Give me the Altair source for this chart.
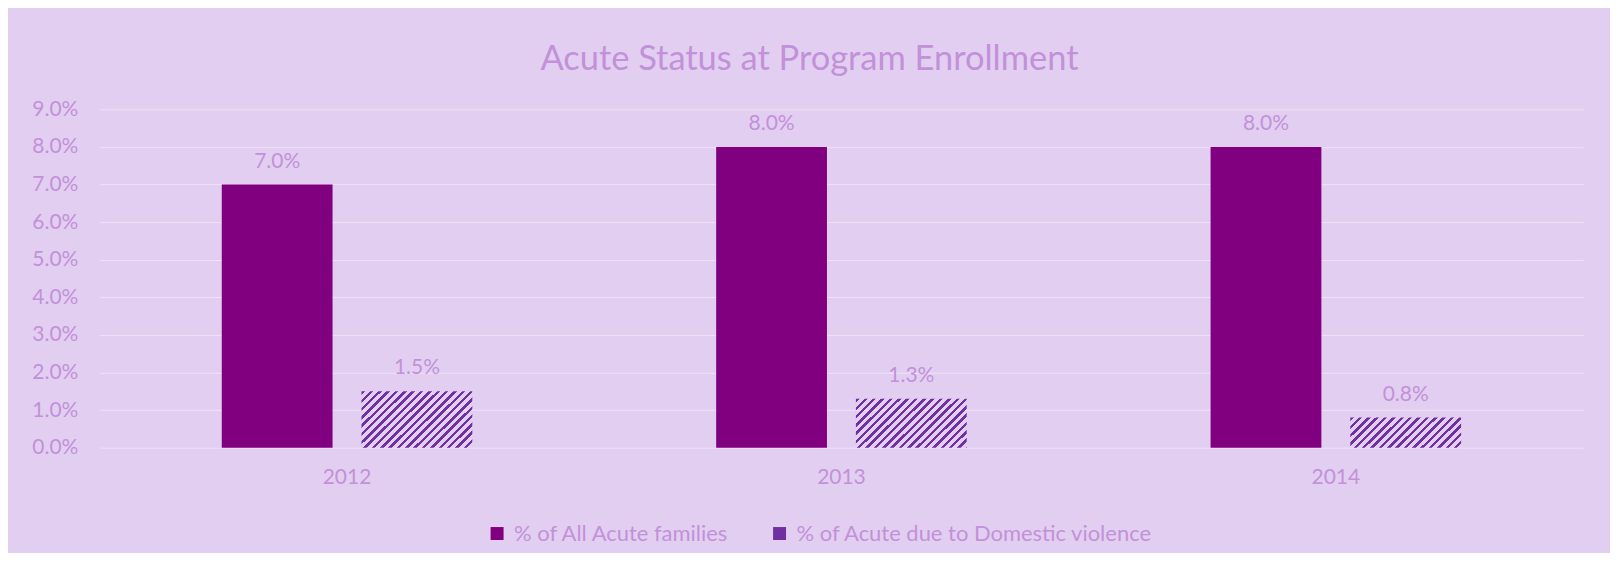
import math
import altair as alt
import pandas as pd

# ---- data -------------------------------------------------------------
years = ["2012", "2013", "2014"]
series = ["% of All Acute families", "% of Acute due to Domestic violence"]
all_acute = [0.070, 0.080, 0.080]
domestic_violence = [0.015, 0.013, 0.008]
y_ticks = [0.00, 0.01, 0.02, 0.03, 0.04, 0.05, 0.06, 0.07, 0.08, 0.09]

rows = []
for i, yr in enumerate(years):
    rows.append({"year": yr, "series": series[0], "value": all_acute[i]})
    rows.append({"year": yr, "series": series[1], "value": domestic_violence[i]})
df = pd.DataFrame(rows)

# ---- style / layout ---------------------------------------------------
BG = "#E2CEF0"
TXT = "#C391D9"
GRID = "#EEE3F7"
SOLID = "#800080"
HATCH = "#7030A0"
FONT = "Lato"

PLOT_W = 1486
PLOT_H = 339
Y_MAX = 0.09
BAR_W = 110.0
PERIOD = 8.3   # horizontal stripe period in px
DARK_FRAC = 0.42


def hatch_fill(value):
    """Diagonal '/' stripes as a linear gradient sized to the bar."""
    w = BAR_W
    h = max(value / Y_MAX * PLOT_H, 1.0)
    den = w * w + h * h
    x2 = (w + h) * w / den
    y2 = (w + h) * h / den
    n = (w + h) / PERIOD
    stops = []
    clear = "rgba(112,48,160,0)"
    i = 0
    while i / n < 1:
        a = i / n
        b = min((i + DARK_FRAC) / n, 1.0)
        c = min((i + 1) / n, 1.0)
        stops += [
            {"offset": a, "color": HATCH},
            {"offset": b, "color": HATCH},
            {"offset": b, "color": clear},
            {"offset": c, "color": clear},
        ]
        i += 1
    return {"gradient": "linear", "x1": 0, "y1": 0, "x2": x2, "y2": y2, "stops": stops}


x_enc = alt.X(
    "year:N",
    sort=years,
    scale=alt.Scale(paddingInner=0, paddingOuter=0),
    axis=alt.Axis(
        title=None, labelAngle=0, domain=False, ticks=False, grid=False,
        labelFont=FONT, labelFontSize=21, labelColor=TXT, labelPadding=19,
    ),
)
xoff_enc = alt.XOffset(
    "series:N",
    sort=series,
    scale=alt.Scale(domain=series, paddingInner=0.2071, paddingOuter=0.8726),
)
y_enc = alt.Y(
    "value:Q",
    scale=alt.Scale(domain=[0, Y_MAX], nice=False),
    axis=alt.Axis(
        title=None, format=".1%", values=y_ticks, domain=False, ticks=False,
        grid=True, gridColor=GRID, gridWidth=1,
        labelFont=FONT, labelFontSize=21, labelColor=TXT, labelPadding=22,
    ),
)

base = alt.Chart(df).encode(x=x_enc, xOffset=xoff_enc, y=y_enc)

solid = base.transform_filter(alt.datum.series == series[0]).mark_bar().encode(
    color=alt.Color(
        "series:N",
        scale=alt.Scale(domain=series, range=[SOLID, HATCH]),
        legend=alt.Legend(
            title=None, orient="none", direction="horizontal",
            legendX=387, legendY=414, padding=0,
            symbolType="square", symbolSize=169, symbolStrokeWidth=0,
            symbolOpacity=1,
            labelFont=FONT, labelFontSize=22, labelColor=TXT, labelLimit=0,
            labelOffset=6, columnPadding=39,
        ),
    )
)

hatched = []
for i, yr in enumerate(years):
    hatched.append(
        base.transform_filter(
            (alt.datum.series == series[1]) & (alt.datum.year == yr)
        ).mark_bar(fill=hatch_fill(domestic_violence[i]), strokeWidth=0)
    )

labels = base.mark_text(
    dy=-17, baseline="alphabetic", font=FONT, fontSize=21, color=TXT
).encode(text=alt.Text("value:Q", format=".1%"))

chart = (
    alt.layer(solid, *hatched, labels)
    .properties(
        width=PLOT_W,
        height=PLOT_H,
        autosize="none",
        padding={"left": 92, "top": 101, "right": 27, "bottom": 105},
        background=BG,
        title=alt.TitleParams(
            "Acute Status at Program Enrollment",
            font=FONT, fontSize=34.5, fontWeight="normal", color=TXT,
            anchor="middle", frame="group", dx=-32, offset=21,
        ),
    )
    .configure_view(stroke=None)
)

chart.save("out.html", embed_options={"renderer": "svg", "actions": False})
